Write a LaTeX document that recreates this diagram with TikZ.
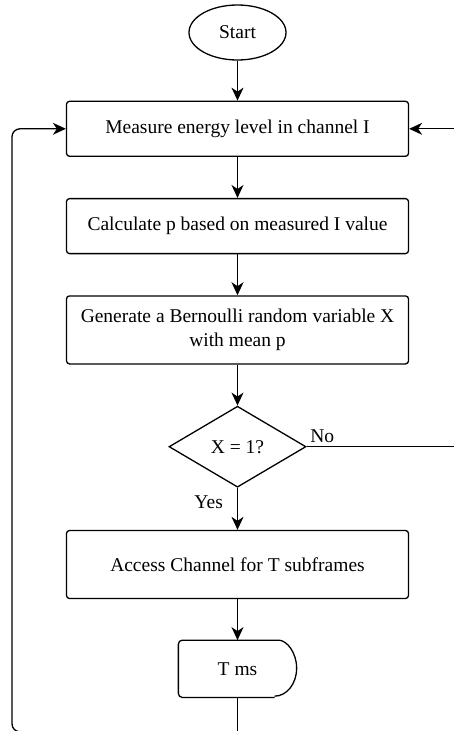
\documentclass[tikz,border=0pt]{standalone}
\usepackage{fontspec}
\setmainfont{Liberation Serif}
\usetikzlibrary{arrows.meta, positioning, shapes.geometric, calc}

\begin{document}
\begin{tikzpicture}[x=1pt, y=1pt, node distance=41pt, auto,
    font=\fontsize{19.5}{24}\selectfont, line width=1.3pt,
    procbox/.style={draw, rounded corners=3pt, minimum width=342pt, minimum height=55pt, align=center, inner sep=0pt},
    startbox/.style={draw, ellipse, minimum width=97pt, minimum height=55pt, inner sep=0pt},
    decbox/.style={draw, diamond, aspect=1.7, minimum width=137pt, minimum height=81pt, inner sep=0pt},
    arr/.style={-{Stealth[length=13pt, width=12pt, inset=4pt]}}]
    \path[use as bounding box] (0,0) rectangle (453,-731);

    \node[startbox] (start) at (237.5,-32.5) {Start};
    \node[procbox, below=40pt of start] (measure) {Measure energy level in channel I};
    \node[procbox, below=of measure] (calc) {Calculate p based on measured I value};
    \node[procbox, below=of calc, minimum height=68pt] (gen) {Generate a Bernoulli random variable X\\with mean p};
    \node[decbox, below=of gen] (dec) {X = 1?};
    \node[procbox, below=42pt of dec, minimum height=68pt] (access) {Access Channel for T subframes};
    \node[minimum width=117pt, minimum height=56pt, inner sep=0pt, below=of access] (tms) {T ms};

    % delay shape
    \draw[rounded corners=4pt] ($(tms.south east)+(-22pt,0)$) -- (tms.south west) -- (tms.north west) -- ($(tms.north east)+(-22pt,0)$)
        arc[start angle=90, end angle=-90, x radius=22pt, y radius=28pt];

    \coordinate (loopbl) at (12,-731.8);
    \coordinate (rside) at (460,0);

    \draw[arr] (start) -- (measure);
    \draw[arr] (measure) -- (calc);
    \draw[arr] (calc) -- (gen);
    \draw[arr] (gen) -- (dec);
    \draw[arr] (dec) -- node[left=12pt, pos=0.35, inner sep=2pt] {Yes} (access);
    \draw[arr] (access) -- (tms);

    % back to measuring
    \draw (tms.south) -- ($(tms.south |- loopbl)+(0,-2pt)$);
    \draw[arr, rounded corners=8pt] (tms.south |- loopbl) -- (loopbl) -- (loopbl |- measure.west) -- (measure.west);
    \draw[arr] (dec.east) -- node[pos=0, anchor=south west, inner sep=3pt] {No} (dec.east -| rside) -- (rside |- measure.east) -- (measure.east);
\end{tikzpicture}
\end{document}
